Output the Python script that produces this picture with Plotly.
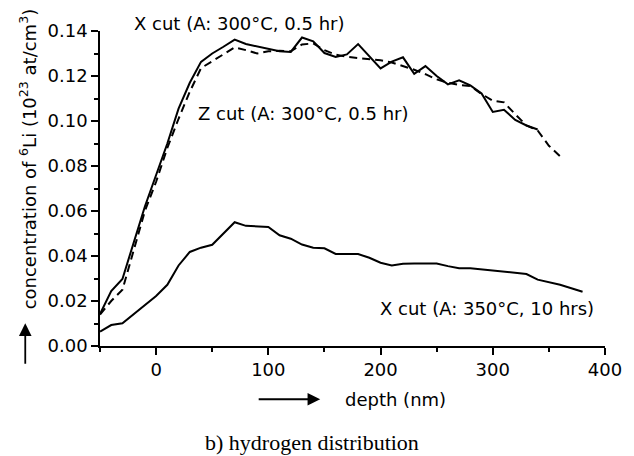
import plotly.graph_objects as go

# ---- data ----
depth_x300 = list(range(-50, 341, 10))
conc_x300 = [0.0142, 0.0244, 0.0298, 0.046, 0.062, 0.076, 0.090, 0.1055, 0.117, 0.1263,
             0.1300, 0.1330, 0.1362, 0.1342, 0.1332, 0.1320, 0.1310, 0.1307, 0.1371, 0.1354,
             0.1302, 0.1285, 0.1296, 0.1342, 0.1288, 0.1234, 0.1264, 0.1283, 0.1210, 0.1244,
             0.1200, 0.1163, 0.1181, 0.1158, 0.1122, 0.1040, 0.1050, 0.1005, 0.0980, 0.0962]

depth_z300 = list(range(-50, 361, 10))
conc_z300 = [0.014, 0.020, 0.025, 0.043, 0.060, 0.073, 0.088, 0.101, 0.113, 0.1235,
             0.1265, 0.1295, 0.1327, 0.1315, 0.1300, 0.1310, 0.1312, 0.1310, 0.1340, 0.1345,
             0.1315, 0.1295, 0.1285, 0.1280, 0.1275, 0.1270, 0.1260, 0.1245, 0.1228, 0.1208,
             0.1185, 0.1170, 0.1160, 0.1155, 0.1120, 0.1090, 0.1083, 0.1030, 0.0980, 0.0958,
             0.0890, 0.0843]

depth_x350 = list(range(-50, 381, 10))
conc_x350 = [0.0064, 0.0093, 0.0101, 0.0140, 0.0180, 0.0222, 0.0272, 0.0358, 0.0418, 0.0437,
             0.0450, 0.0500, 0.0550, 0.0534, 0.0531, 0.0529, 0.0492, 0.0477, 0.0451, 0.0437,
             0.0434, 0.0409, 0.0409, 0.0409, 0.0392, 0.0370, 0.0358, 0.0366, 0.0367, 0.0367,
             0.0367, 0.0355, 0.0346, 0.0346, 0.0341, 0.0336, 0.0330, 0.0325, 0.0320, 0.0295,
             0.0285, 0.0272, 0.0257, 0.0241]

x_ticks = [0, 100, 200, 300, 400]
y_ticks = [0.00, 0.02, 0.04, 0.06, 0.08, 0.10, 0.12, 0.14]
y_ticklabels = ["0.00", "0.02", "0.04", "0.06", "0.08", "0.10", "0.12", "0.14"]

label_x300 = "X cut (A: 300°C, 0.5 hr)"
label_z300 = "Z cut (A: 300°C, 0.5 hr)"
label_x350 = "X cut (A: 350°C, 10 hrs)"

FONT = "DejaVu Sans"
fs = 18

fig = go.Figure()
fig.add_trace(go.Scatter(x=depth_x300, y=conc_x300, mode="lines",
                         line=dict(color="black", width=2), name=label_x300))
fig.add_trace(go.Scatter(x=depth_z300, y=conc_z300, mode="lines",
                         line=dict(color="black", width=2, dash="8px,5px"), name=label_z300))
fig.add_trace(go.Scatter(x=depth_x350, y=conc_x350, mode="lines",
                         line=dict(color="black", width=2), name=label_x350))

axis_common = dict(showgrid=False, zeroline=False, showline=True, linecolor="black",
                   linewidth=1.5, ticks="outside", tickwidth=1.5, ticklen=7,
                   tickcolor="black", tickfont=dict(family=FONT, size=fs, color="black"),
                   mirror=False)

fig.update_xaxes(range=[-50, 400], tickvals=x_ticks,
                 minor=dict(dtick=50, ticks="outside", ticklen=4, tickwidth=1.5, tickcolor="black"),
                 **axis_common)
fig.update_yaxes(range=[0, 0.14], tickvals=y_ticks, ticktext=y_ticklabels,
                 minor=dict(dtick=0.01, ticks="outside", ticklen=4, tickwidth=1.5, tickcolor="black"),
                 **axis_common)

annots = [
    dict(x=74, y=1.025, xref="x", yref="paper", text=label_x300, showarrow=False,
         xanchor="center", yanchor="middle"),
    dict(x=131, y=0.1035, xref="x", yref="y", text=label_z300, showarrow=False,
         xanchor="center", yanchor="middle"),
    dict(x=295, y=0.0165, xref="x", yref="y", text=label_x350, showarrow=False,
         xanchor="center", yanchor="middle"),
    # y-axis title
    dict(x=-0.143, y=0.595, xref="paper", yref="paper", textangle=-90, showarrow=False,
         text="concentration of <sup>6</sup>Li (10<sup>23</sup> at/cm<sup>3</sup>)",
         xanchor="center", yanchor="middle"),
    # x-axis title
    dict(x=0.585, y=-0.169, xref="paper", yref="paper", text="depth (nm)", showarrow=False,
         xanchor="center", yanchor="middle"),
    # caption
    dict(x=0.4205, y=-0.305, xref="paper", yref="paper", text="b) hydrogen distribution",
         showarrow=False, xanchor="center", yanchor="middle",
         font=dict(family="Liberation Serif", size=22, color="black")),
    # arrows
    dict(x=-0.148, y=0.072, xref="paper", yref="paper", text="", showarrow=True,
         ax=0, ay=42, arrowhead=2, arrowsize=1.4, arrowwidth=1.8, arrowcolor="black"),
    dict(x=0.436, y=-0.169, xref="paper", yref="paper", text="", showarrow=True,
         ax=-63, ay=0, arrowhead=2, arrowsize=1.4, arrowwidth=1.8, arrowcolor="black"),
]
for a in annots:
    a.setdefault("font", dict(family=FONT, size=fs, color="black"))
fig.update_layout(annotations=annots)

# page body has an 8px default margin; size/margins compensate for it
fig.update_layout(width=626, height=448, showlegend=False,
                  margin=dict(l=92, r=18, t=18, b=110),
                  plot_bgcolor="white", paper_bgcolor="white",
                  font=dict(family=FONT, size=fs, color="black"))

fig.write_html("out.html")
